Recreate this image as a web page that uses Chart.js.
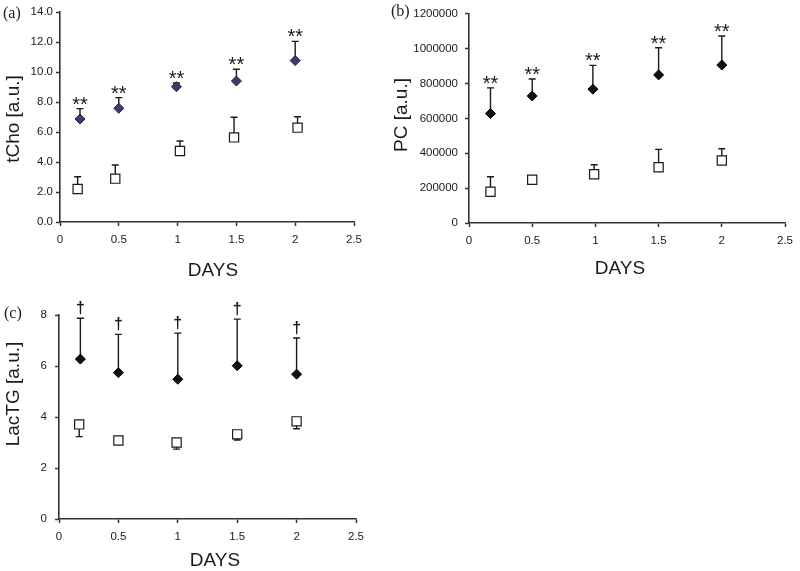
<!DOCTYPE html>
<html><head><meta charset="utf-8">
<script src="https://cdn.jsdelivr.net/npm/chart.js@4.4.1/dist/chart.umd.min.js"></script>
<style>
html,body{margin:0;padding:0;background:#fff;overflow:hidden;width:800px;height:571px;}
.panel{position:absolute;}
.panel canvas{display:block;}
.lab{position:absolute;font-family:"Liberation Serif","Times New Roman",serif;font-size:16px;color:#222;line-height:16px;white-space:nowrap;}
</style></head><body>
<div class="panel" style="left:0;top:0;width:400px;height:285px"><canvas id="ca" width="400" height="285"></canvas></div>
<div class="panel" style="left:380px;top:0;width:420px;height:285px"><canvas id="cb" width="420" height="285"></canvas></div>
<div class="panel" style="left:0;top:285px;width:400px;height:286px"><canvas id="cc" width="400" height="286"></canvas></div>
<div class="lab" style="left:3px;top:5px">(a)</div>
<div class="lab" style="left:391px;top:3px">(b)</div>
<div class="lab" style="left:4px;top:305px">(c)</div>
<script>
// ---------- data ----------
const xTicks = [0, 0.5, 1, 1.5, 2, 2.5];

// (a) tCho
const tChoTicks = [0, 2, 4, 6, 8, 10, 12, 14];
const tChoDiamondDays = [0.17, 0.50, 0.99, 1.50, 2.00];
const tChoDiamond     = [6.87, 7.58, 9.02, 9.40, 10.76];
const tChoDiamondSD   = [0.69, 0.71, 0.25, 0.78, 1.28];
const tChoSquareDays  = [0.15, 0.47, 1.02, 1.48, 2.02];
const tChoSquare      = [2.20, 2.89, 4.73, 5.64, 6.29];
const tChoSquareSD    = [0.82, 0.91, 0.67, 1.34, 0.73];
const tChoMarks       = ['**', '**', '**', '**', '**'];

// (b) PC
const pcTicks = [0, 200000, 400000, 600000, 800000, 1000000, 1200000];
const pcDiamondDays = [0.17, 0.50, 0.98, 1.50, 2.00];
const pcDiamond     = [628000, 729000, 768000, 850000, 906500];
const pcDiamondSD   = [147700, 97000, 136700, 155600, 166400];
const pcSquareDays  = [0.17, 0.50, 0.99, 1.50, 2.00];
const pcSquare      = [179000, 248600, 280000, 319600, 358900];
const pcSquareSD    = [86000, 15000, 54600, 102800, 67300];
const pcMarks       = ['**', '**', '**', '**', '**'];

// (c) LacTG
const lacTicks = [0, 2, 4, 6, 8];
const lacDiamondDays = [0.18, 0.50, 1.00, 1.50, 2.00];
const lacDiamond     = [6.27, 5.74, 5.48, 6.01, 5.68];
const lacDiamondSD   = [1.60, 1.50, 1.81, 1.83, 1.42];
const lacSquareDays  = [0.17, 0.50, 0.99, 1.50, 2.00];
const lacSquare      = [3.71, 3.08, 3.00, 3.32, 3.83];
const lacSquareSD    = [0.48, 0.05, 0.26, 0.22, 0.29];
const lacMarks       = ['\u2020', '\u2020', '\u2020', '\u2020', '\u2020'];

// ---------- plugins ----------
const FONT = '"Liberation Sans", Arial, sans-serif';
const INK = '#1a1a1a';

const errorBarPlugin = {
  id: 'errorBars',
  beforeDatasetsDraw(chart) {
    const ctx = chart.ctx, ys = chart.scales.y;
    ctx.save();
    ctx.strokeStyle = INK; ctx.lineWidth = 1.4;
    chart.data.datasets.forEach((ds, di) => {
      const meta = chart.getDatasetMeta(di);
      meta.data.forEach((pt, i) => {
        const end = ds.data[i].y + ds.errDir * ds.errors[i];
        const ye = ys.getPixelForValue(end);
        ctx.beginPath();
        ctx.moveTo(pt.x, pt.y); ctx.lineTo(pt.x, ye);
        ctx.moveTo(pt.x - 3.5, ye); ctx.lineTo(pt.x + 3.5, ye);
        ctx.stroke();
      });
    });
    ctx.restore();
  },
  afterDatasetsDraw(chart) {
    const ctx = chart.ctx, ys = chart.scales.y;
    ctx.save();
    ctx.fillStyle = INK; ctx.textAlign = 'center'; ctx.textBaseline = 'alphabetic';
    chart.data.datasets.forEach((ds, di) => {
      if (!ds.marks) return;
      const meta = chart.getDatasetMeta(di);
      ctx.font = ds.markFont;
      meta.data.forEach((pt, i) => {
        const end = ds.data[i].y + ds.errDir * ds.errors[i];
        const ye = ys.getPixelForValue(end);
        ctx.fillText(ds.marks[i], pt.x, ye + ds.markShift);
      });
    });
    ctx.restore();
  }
};

const axisTextPlugin = {
  id: 'axisText',
  afterDraw(chart, args, opts) {
    const ctx = chart.ctx;
    ctx.save();
    ctx.fillStyle = INK; ctx.textAlign = 'center'; ctx.textBaseline = 'middle';
    ctx.font = '19px ' + FONT;
    ctx.fillText(opts.xText, opts.xPos[0], opts.xPos[1]);
    ctx.translate(opts.yPos[0], opts.yPos[1]);
    ctx.rotate(-Math.PI / 2);
    ctx.font = '19px ' + FONT;
    ctx.fillText(opts.yText, 0, 0);
    ctx.restore();
  }
};

function pts(xs, ys) { return xs.map((x, i) => ({ x: x, y: ys[i] })); }

function makePanel(id, c) {
  const tickFont = { family: FONT, size: 11.5 };
  return new Chart(document.getElementById(id), {
    type: 'scatter',
    data: {
      datasets: [
        { data: pts(c.dX, c.dY), pointStyle: 'rectRot', pointRadius: 5, pointHoverRadius: 5,
          backgroundColor: c.dFill, borderColor: c.dEdge, borderWidth: 1,
          errors: c.dSD, errDir: 1, marks: c.marks, markFont: c.markFont, markShift: c.markShift },
        { data: pts(c.sX, c.sY), pointStyle: 'rect', pointRadius: 6.5, pointHoverRadius: 6.5,
          backgroundColor: '#ffffff', borderColor: INK, borderWidth: 1.2,
          errors: c.sSD, errDir: c.sDir }
      ]
    },
    options: {
      responsive: false, animation: false, devicePixelRatio: 1,
      layout: { padding: { top: c.padTop, right: c.padRight, bottom: 0, left: 0 } },
      plugins: { legend: { display: false }, tooltip: { enabled: false }, axisText: c.text },
      scales: {
        x: {
          type: 'linear', min: 0, max: 2.5,
          afterBuildTicks: s => { s.ticks = xTicks.map(v => ({ value: v })); },
          afterFit: s => { s.height = c.xH; },
          ticks: { padding: 7, color: INK, font: tickFont, maxRotation: 0, callback: v => String(v) },
          grid: { drawOnChartArea: false, drawTicks: true, tickLength: 4, tickColor: '#333', tickWidth: 1.5 },
          border: { display: true, color: '#333', width: 1.6 }
        },
        y: {
          type: 'linear', min: c.yTicks[0], max: c.yTicks[c.yTicks.length - 1],
          afterBuildTicks: s => { s.ticks = c.yTicks.map(v => ({ value: v })); },
          afterFit: s => { s.width = c.yW; },
          ticks: { padding: c.yPad, color: INK, font: tickFont, callback: c.yFmt },
          grid: { drawOnChartArea: false, drawTicks: true, tickLength: 4, tickColor: '#333', tickWidth: 1.5 },
          border: { display: true, color: '#333', width: 1.6 }
        }
      }
    },
    plugins: [errorBarPlugin, axisTextPlugin]
  });
}

makePanel('ca', {
  dX: tChoDiamondDays, dY: tChoDiamond, dSD: tChoDiamondSD,
  sX: tChoSquareDays, sY: tChoSquare, sSD: tChoSquareSD, sDir: 1,
  marks: tChoMarks, markFont: '20px ' + FONT, markShift: 2,
  dFill: '#3c3c6c', dEdge: '#1e1e3a',
  yTicks: tChoTicks, yFmt: v => Number(v).toFixed(1), yPad: 3,
  padTop: 12, padRight: 46, yW: 60, xH: 63,
  text: { xText: 'DAYS', xPos: [213, 270.5], yText: 'tCho [a.u.]', yPos: [13.5, 119] }
});

makePanel('cb', {
  dX: pcDiamondDays, dY: pcDiamond, dSD: pcDiamondSD,
  sX: pcSquareDays, sY: pcSquare, sSD: pcSquareSD, sDir: 1,
  marks: pcMarks, markFont: '20px ' + FONT, markShift: 2,
  dFill: '#111111', dEdge: '#000000',
  yTicks: pcTicks, yFmt: v => String(v), yPad: 7,
  padTop: 9, padRight: 14, yW: 89, xH: 62,
  text: { xText: 'DAYS', xPos: [240, 268.5], yText: 'PC [a.u.]', yPos: [22, 115] }
});

makePanel('cc', {
  dX: lacDiamondDays, dY: lacDiamond, dSD: lacDiamondSD,
  sX: lacSquareDays, sY: lacSquare, sSD: lacSquareSD, sDir: -1,
  marks: lacMarks, markFont: 'bold 16px ' + FONT, markShift: -5,
  dFill: '#111111', dEdge: '#000000',
  yTicks: lacTicks, yFmt: v => String(v), yPad: 8,
  padTop: 30, padRight: 44, yW: 59, xH: 52,
  text: { xText: 'DAYS', xPos: [215, 276], yText: 'LacTG [a.u.]', yPos: [13.5, 109] }
});
</script>
</body></html>
